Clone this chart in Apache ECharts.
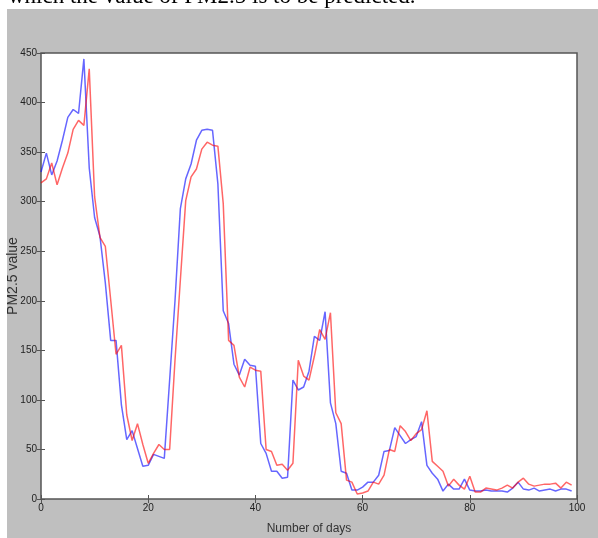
<!DOCTYPE html>
<html>
<head>
<meta charset="utf-8">
<script src="https://cdn.jsdelivr.net/npm/echarts@6/dist/echarts.min.js"></script>
<style>
  html, body { margin: 0; padding: 0; background: #fff; }
  #main { width: 598px; height: 538px; }
</style>
</head>
<body>
<div id="main"></div>
<script>
// PM2.5 真实值(蓝) 与 预测值(红)
var actual = [
  330, 349, 327, 341, 362, 385, 393, 389, 444, 334,
  284, 265, 218, 160, 160, 95, 60, 69, 51, 33,
  34, 45, 43, 41, 120, 200, 293, 323, 338, 362,
  372, 373, 372, 318, 190, 177, 136, 125, 141, 135,
  134, 56, 46, 28, 28, 21, 22, 120, 110, 113,
  129, 164, 160, 189, 97, 76, 28, 26, 9, 9,
  12, 17, 17, 24, 48, 49, 72, 64, 56, 60,
  63, 78, 34, 26, 20, 8, 15, 10, 10, 20,
  9, 8, 8, 9, 8, 8, 8, 7, 11, 17,
  10, 9, 11, 8, 9, 10, 8, 10, 10, 8
]
var predicted = [
  319, 323, 339, 317, 334, 349, 373, 382, 377, 434,
  305, 264, 255, 201, 146, 155, 85, 59, 76, 55,
  36, 46, 55, 50, 50, 140, 221, 301, 325, 333,
  353, 360, 357, 356, 298, 160, 155, 123, 113, 133,
  130, 129, 50, 48, 34, 35, 29, 36, 140, 124,
  120, 144, 171, 161, 188, 87, 76, 19, 17, 5,
  6, 8, 17, 15, 24, 50, 48, 74, 68, 59,
  66, 70, 89, 38, 33, 28, 13, 20, 14, 10,
  23, 7, 7, 11, 10, 9, 11, 14, 11, 17,
  21, 15, 13, 14, 15, 15, 16, 11, 17, 14
]
var xTicks = [0, 20, 40, 60, 80, 100]
var yTicks = [0, 50, 100, 150, 200, 250, 300, 350, 400, 450]

var tickFont = "'Liberation Sans Narrow', 'Liberation Sans', sans-serif"

function toPairs (arr) {
  return arr.map(function (v, i) { return [i, v] })
}

var chart = echarts.init(document.getElementById('main'))

var tickStyle = { show: true, inside: true, length: 4, lineStyle: { color: '#555', width: 1 } }

chart.setOption({
  backgroundColor: '#bfbfbf',
  animation: false,
  graphic: [
    { type: 'rect', shape: { x: 0, y: 0, width: 598, height: 9 }, style: { fill: '#fff' } },
    { type: 'rect', shape: { x: 0, y: 0, width: 7, height: 538 }, style: { fill: '#fff' } },
    {
      type: 'text',
      x: 8,
      y: -3,
      style: {
        text: 'which the value of PM2.5 is to be predicted.',
        font: '23px "Liberation Serif", serif',
        fill: '#000',
        verticalAlign: 'middle'
      }
    },
    { type: 'rect', shape: { x: 7, y: 9, width: 591, height: 2 }, style: { fill: '#bfbfbf' } }
  ],
  grid: {
    left: 41,
    right: 21,
    top: 53,
    bottom: 39,
    containLabel: false,
    outerBoundsMode: 'none',
    show: true,
    backgroundColor: '#fff',
    borderColor: '#555',
    borderWidth: 1.5
  },
  xAxis: [
    {
      type: 'value',
      min: 0,
      max: 100,
      interval: 20,
      name: 'Number of days',
      nameLocation: 'middle',
      nameGap: 24,
      nameMoveOverlap: false,
      nameTextStyle: { fontFamily: 'Liberation Sans', fontSize: 12, color: '#333' },
      axisLine: { show: false },
      axisTick: tickStyle,
      splitLine: { show: false },
      axisLabel: {
        fontFamily: tickFont,
        fontSize: 10,
        color: '#222',
        margin: 4,
        formatter: function (v) { return xTicks.indexOf(v) >= 0 ? String(v) : '' }
      }
    },
    {
      type: 'value',
      position: 'top',
      min: 0,
      max: 100,
      interval: 20,
      axisLine: { show: false },
      axisTick: tickStyle,
      splitLine: { show: false },
      axisLabel: { show: false }
    }
  ],
  yAxis: [
    {
      type: 'value',
      min: 0,
      max: 450,
      interval: 50,
      name: 'PM2.5 value',
      nameLocation: 'middle',
      nameGap: 21,
      nameMoveOverlap: false,
      nameTextStyle: { fontFamily: 'Liberation Sans', fontSize: 14, color: '#333' },
      axisLine: { show: false },
      axisTick: tickStyle,
      splitLine: { show: false },
      axisLabel: {
        fontFamily: tickFont,
        fontSize: 10,
        color: '#222',
        margin: 4,
        formatter: function (v) { return yTicks.indexOf(v) >= 0 ? String(v) : '' }
      }
    },
    {
      type: 'value',
      position: 'right',
      min: 0,
      max: 450,
      interval: 50,
      axisLine: { show: false },
      axisTick: tickStyle,
      splitLine: { show: false },
      axisLabel: { show: false }
    }
  ],
  series: [
    {
      type: 'line',
      data: toPairs(actual),
      showSymbol: false,
      lineStyle: { color: 'rgba(0,0,255,0.6)', width: 1.5 },
      itemStyle: { color: 'rgba(0,0,255,0.6)' },
      z: 3
    },
    {
      type: 'line',
      data: toPairs(predicted),
      showSymbol: false,
      lineStyle: { color: 'rgba(255,0,0,0.6)', width: 1.5 },
      itemStyle: { color: 'rgba(255,0,0,0.6)' },
      z: 4
    }
  ]
})
</script>
</body>
</html>
